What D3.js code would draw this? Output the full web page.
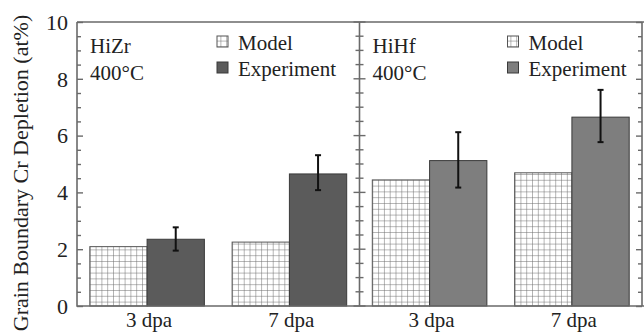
<!DOCTYPE html>
<html>
<head>
<meta charset="utf-8">
<script src="https://cdnjs.cloudflare.com/ajax/libs/d3/7.8.5/d3.min.js"></script>
<style>
  body { margin: 0; background: #fff; }
</style>
</head>
<body>
<div id="chart"></div>
<script>
const alloys = ['HiZr', 'HiHf'];
const conditions = ['3 dpa', '7 dpa'];
const series = ['Model', 'Experiment'];
// [alloy][condition]
const modelValues = [[2.09, 2.25], [4.44, 4.69]];
const experimentValues = [[2.35, 4.65], [5.12, 6.65]];
const errLow = [[1.95, 4.08], [4.17, 5.77]];
const errHigh = [[2.77, 5.31], [6.12, 7.61]];
const yTicks = [0, 2, 4, 6, 8, 10];
const expColors = ['#5b5b5b', '#7e7e7e'];

const width = 644, height = 336;
const margin = { top: 22, right: 2, bottom: 30, left: 77 };
const frameColor = '#6a6a6a';
const serif = "'Liberation Serif', 'Times New Roman', Times, 'DejaVu Serif', serif";

const svg = d3.select('#chart').append('svg')
  .attr('width', width)
  .attr('height', height)
  .style('font-family', serif)
  .attr('fill', '#222');

const defs = svg.append('defs');
const pat = defs.append('pattern')
  .attr('id', 'grid')
  .attr('patternUnits', 'userSpaceOnUse')
  .attr('width', 5.8).attr('height', 5.8);
pat.append('rect').attr('width', 5.8).attr('height', 5.8).attr('fill', '#fff');
pat.append('path').attr('d', 'M0,0H5.8M0,0V5.8')
  .attr('stroke', '#6d6d6d').attr('stroke-width', 1).attr('fill', 'none');

const y = d3.scaleLinear().domain([0, 10]).range([height - margin.bottom, margin.top]);

const panelX = d3.scaleBand().domain(alloys)
  .range([margin.left, width - margin.right]).padding(0);

// bars
alloys.forEach((alloy, ai) => {
  const x0 = d3.scaleBand().domain(conditions)
    .range([panelX(alloy), panelX(alloy) + panelX.bandwidth()])
    .paddingInner(0.195).paddingOuter(0.09);
  const x1 = d3.scaleBand().domain(series).range([0, x0.bandwidth()]);

  const rows = conditions.map((c, ci) => ({
    cond: c,
    model: modelValues[ai][ci],
    exp: experimentValues[ai][ci],
    lo: errLow[ai][ci],
    hi: errHigh[ai][ci]
  }));

  const g = svg.append('g');
  const grp = g.selectAll('g.grp').data(rows).enter().append('g')
    .attr('transform', d => `translate(${x0(d.cond)},0)`);

  grp.append('rect')
    .attr('x', x1('Model'))
    .attr('y', d => y(d.model))
    .attr('width', x1.bandwidth())
    .attr('height', d => y(0) - y(d.model))
    .attr('fill', 'url(#grid)')
    .attr('stroke', '#555').attr('stroke-width', 1);

  grp.append('rect')
    .attr('x', x1('Experiment'))
    .attr('y', d => y(d.exp))
    .attr('width', x1.bandwidth())
    .attr('height', d => y(0) - y(d.exp))
    .attr('fill', expColors[ai])
    .attr('stroke', '#3a3a3a').attr('stroke-width', 1);

  const ex = x1('Experiment') + x1.bandwidth() / 2;
  grp.append('line')
    .attr('x1', ex).attr('x2', ex)
    .attr('y1', d => y(d.lo)).attr('y2', d => y(d.hi))
    .attr('stroke', '#111').attr('stroke-width', 2);
  ['lo', 'hi'].forEach(k => {
    grp.append('line')
      .attr('x1', ex - 3).attr('x2', ex + 3)
      .attr('y1', d => y(d[k])).attr('y2', d => y(d[k]))
      .attr('stroke', '#111').attr('stroke-width', 2);
  });

  // category labels
  g.selectAll('text.cat').data(conditions).enter().append('text')
    .attr('x', d => x0(d) + x0.bandwidth() / 2 + 2)
    .attr('y', height - 9)
    .attr('text-anchor', 'middle')
    .attr('font-size', 21)
    .text(d => d);

  // panel labels
  const px = panelX(alloy) + 13;
  g.append('text').attr('x', px).attr('y', 53).attr('font-size', 21).text(alloy);
  g.append('text').attr('x', px).attr('y', 80).attr('font-size', 21).text('400\u00B0C');

  // legend
  const lx = panelX(alloy) + (ai === 0 ? 140 : 148);
  g.append('rect').attr('x', lx).attr('y', 36).attr('width', 11).attr('height', 11)
    .attr('fill', 'url(#grid)').attr('stroke', '#555');
  g.append('rect').attr('x', lx).attr('y', 62).attr('width', 11).attr('height', 11)
    .attr('fill', expColors[ai]).attr('stroke', '#3a3a3a');
  g.append('text').attr('x', lx + 21).attr('y', 50).attr('font-size', 21).text(series[0]);
  g.append('text').attr('x', lx + 21).attr('y', 76).attr('font-size', 21).text(series[1]);
});

// frame
const xL = margin.left, xR = width - margin.right, xM = panelX('HiHf');
svg.append('path')
  .attr('d', `M${xL},${y(10)}H${width}M${xL},${y(10)}V${y(0)}H${width}M${xM},${y(10)}V${y(0)}M${xR},${y(10)}V${y(0)}`)
  .attr('stroke', frameColor).attr('stroke-width', 1.6).attr('fill', 'none');

// axes with inner ticks
const minor = d3.range(0, 10.01, 0.5).filter(v => v % 2 !== 0);
const leftAxis = d3.axisRight(y).tickValues(yTicks).tickSize(6).tickFormat('');
const leftMinor = d3.axisRight(y).tickValues(minor).tickSize(4).tickFormat('');
[leftAxis, leftMinor].forEach(a => {
  svg.append('g').attr('transform', `translate(${xL},0)`).call(a)
    .call(s => s.select('.domain').remove())
    .selectAll('line').attr('stroke', frameColor).attr('stroke-width', 1.4);
});
// divider ticks on both sides
[[6, 'M'], [4, 'm']].forEach(([len, kind]) => {
  const vals = kind === 'M' ? yTicks : minor;
  svg.append('g').selectAll('line').data(vals).enter().append('line')
    .attr('x1', xM - len).attr('x2', xM + len)
    .attr('y1', d => y(d)).attr('y2', d => y(d))
    .attr('stroke', frameColor).attr('stroke-width', 1.4);
});
const rightAxis = d3.axisLeft(y).tickValues(yTicks).tickSize(6).tickFormat('');
const rightMinor = d3.axisLeft(y).tickValues(minor).tickSize(4).tickFormat('');
[rightAxis, rightMinor].forEach(a => {
  svg.append('g').attr('transform', `translate(${xR},0)`).call(a)
    .call(s => s.select('.domain').remove())
    .selectAll('line').attr('stroke', frameColor).attr('stroke-width', 1.4);
});

// y tick labels
svg.append('g').selectAll('text').data(yTicks).enter().append('text')
  .attr('x', 68).attr('y', d => y(d)).attr('dy', '0.35em')
  .attr('text-anchor', 'end').attr('font-size', 22)
  .text(d => d);

// y title
svg.append('text')
  .attr('transform', `translate(28,${173}) rotate(-90)`)
  .attr('text-anchor', 'middle')
  .attr('font-size', 22)
  .text('Grain Boundary Cr Depletion (at%)');
</script>
</body>
</html>
